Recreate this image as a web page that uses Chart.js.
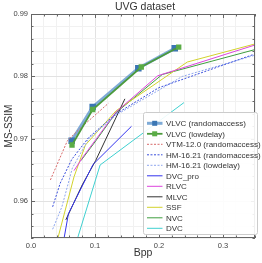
<!DOCTYPE html>
<html>
<head>
<meta charset="utf-8">
<script src="https://cdn.jsdelivr.net/npm/chart.js@4"></script>
<style>
  html, body { margin: 0; padding: 0; background: #fff; }
  #wrap { width: 262px; height: 263px; }
</style>
</head>
<body>
<div id="wrap"><canvas id="rdChart" width="262" height="263"></canvas></div>
<script>
// UVG dataset - MS-SSIM vs Bpp
const seriesNames = ['VLVC (randomaccess)', 'VLVC (lowdelay)', 'VTM-12.0 (randomaccess)', 'HM-16.21 (randomaccess)',
    'HM-16.21 (lowdelay)', 'DVC_pro', 'RLVC', 'MLVC', 'SSF', 'NVC', 'DVC'];

const vlvcRaBpp = [0.0636, 0.0964, 0.1677, 0.2246];
const vlvcRaSsim = [0.9697, 0.9751, 0.9813, 0.9845];
const vlvcLdBpp = [0.0641, 0.0964, 0.1723, 0.2308];
const vlvcLdSsim = [0.9690, 0.9747, 0.9815, 0.9847];
const vtmBpp = [0.0303, 0.0569, 0.0760, 0.1210];
const vtmSsim = [0.9634, 0.9697, 0.9716, 0.9757];
const hmRaBpp = [0.0338, 0.0457, 0.0637, 0.0900, 0.1330, 0.2000, 0.3500];
const hmRaSsim = [0.9591, 0.9629, 0.9667, 0.9702, 0.9740, 0.9782, 0.9836];
const hmLdBpp = [0.0338, 0.0483, 0.0646, 0.0900, 0.1330, 0.2365, 0.3500];
const hmLdSsim = [0.9555, 0.9591, 0.9653, 0.9700, 0.9738, 0.9800, 0.9834];
const dvcProBpp = [0.0490, 0.0585, 0.0970, 0.1570];
const dvcProSsim = [0.9525, 0.9580, 0.9659, 0.9720];
const rlvcBpp = [0.0672, 0.0820, 0.1330, 0.1980, 0.3490];
const rlvcSsim = [0.9649, 0.9672, 0.9743, 0.9801, 0.9850];
const mlvcBpp = [0.0544, 0.0800, 0.1010, 0.1467];
const mlvcSsim = [0.9570, 0.9626, 0.9665, 0.9764];
const ssfBpp = [0.0405, 0.0672, 0.0850, 0.1330, 0.2442, 0.3500];
const ssfSsim = [0.9535, 0.9639, 0.9690, 0.9745, 0.9823, 0.9852];
const nvcBpp = [0.0780, 0.1000, 0.1330, 0.2050, 0.3500];
const nvcSsim = [0.9665, 0.9695, 0.9742, 0.9803, 0.9843];
const dvcBpp = [0.0680, 0.1080, 0.2390];
const dvcSsim = [0.9525, 0.9658, 0.9758];

const xTicksMajor = [0.0, 0.1, 0.2, 0.3];
const yTicksMajor = [0.96, 0.97, 0.98, 0.99];

function pts(xs, ys) {
    return xs.map((x, i) => ({ x: x, y: ys[i] }));
}

function line(label, xs, ys, color, opts) {
    return Object.assign({
        label: label,
        data: pts(xs, ys),
        borderColor: color,
        backgroundColor: color,
        borderWidth: 1,
        pointRadius: 0,
        tension: 0,
        fill: false
    }, opts || {});
}

const dash = [2, 1.5];
const datasets = [
    line(seriesNames[0], vlvcRaBpp, vlvcRaSsim, 'rgba(95,150,205,0.8)',
        { borderWidth: 3, pointStyle: 'rect', pointRadius: 2.5, pointBackgroundColor: '#3b76b3', pointBorderColor: '#3b76b3', order: 1 }),
    line(seriesNames[1], vlvcLdBpp, vlvcLdSsim, '#4c9a3c',
        { borderWidth: 1.8, pointStyle: 'rect', pointRadius: 2.5, pointBackgroundColor: '#5aac45', pointBorderColor: '#5aac45', order: 0 }),
    line(seriesNames[2], vtmBpp, vtmSsim, '#d86a6a', { borderDash: dash }),
    line(seriesNames[3], hmRaBpp, hmRaSsim, '#3a4fdc', { borderDash: dash }),
    line(seriesNames[4], hmLdBpp, hmLdSsim, '#8ea6ee', { borderDash: dash }),
    line(seriesNames[5], dvcProBpp, dvcProSsim, '#3434ee'),
    line(seriesNames[6], rlvcBpp, rlvcSsim, '#dd44dd'),
    line(seriesNames[7], mlvcBpp, mlvcSsim, '#333333'),
    line(seriesNames[8], ssfBpp, ssfSsim, '#d2d22c'),
    line(seriesNames[9], nvcBpp, nvcSsim, '#3f9f3f'),
    line(seriesNames[10], dvcBpp, dvcSsim, '#3fd0d0')
];

function isMajor(v, list) {
    return list.some(m => Math.abs(m - v) < 1e-7);
}

// frame, inward tick marks, title and legend
const decorPlugin = {
    id: 'decor',
    afterDraw(chart) {
        const c = chart.ctx;
        const a = chart.chartArea;
        const xs = chart.scales.x, ys = chart.scales.y;
        c.save();
        c.strokeStyle = '#666';
        c.lineWidth = 1;
        c.strokeRect(a.left + 0.5, a.top + 0.5, a.right - a.left - 1, a.bottom - a.top - 1);
        c.beginPath();
        xs.ticks.forEach(t => {
            const px = Math.round(xs.getPixelForValue(t.value)) + 0.5;
            const len = isMajor(t.value, xTicksMajor) ? 4 : 2.5;
            c.moveTo(px, a.bottom); c.lineTo(px, a.bottom - len);
            c.moveTo(px, a.top); c.lineTo(px, a.top + len);
        });
        ys.ticks.forEach(t => {
            const py = Math.round(ys.getPixelForValue(t.value)) + 0.5;
            const len = isMajor(t.value, yTicksMajor) ? 4 : 2.5;
            c.moveTo(a.left, py); c.lineTo(a.left + len, py);
            c.moveTo(a.right, py); c.lineTo(a.right - len, py);
        });
        c.stroke();

        // title
        c.fillStyle = '#333';
        c.font = '10.5px "Liberation Sans", Arial, sans-serif';
        c.textAlign = 'center';
        c.textBaseline = 'middle';
        c.fillText('UVG dataset', 145, 7.5);

        // legend box
        const bx = 143.5, by = 112.5, bw = 114, bh = 122;
        c.fillStyle = 'rgba(255,255,255,0.9)';
        c.strokeStyle = '#cccccc';
        c.beginPath();
        c.roundRect(bx, by, bw, bh, 2);
        c.fill();
        c.stroke();
        c.font = '8px "Liberation Sans", Arial, sans-serif';
        c.textAlign = 'left';
        chart.data.datasets.forEach((ds, i) => {
            const cy = 123.3 + i * 10.5;
            c.strokeStyle = ds.borderColor;
            c.lineWidth = ds.borderWidth;
            c.setLineDash(ds.borderDash || []);
            c.beginPath();
            c.moveTo(147, cy); c.lineTo(162.5, cy);
            c.stroke();
            c.setLineDash([]);
            if (ds.pointRadius > 0) {
                c.fillStyle = ds.pointBackgroundColor;
                c.fillRect(154.7 - 2.5, cy - 2.5, 5, 5);
            }
            c.fillStyle = '#333';
            c.fillText(ds.label, 166, cy + 0.5);
        });
        c.restore();
    }
};

const ctx = document.getElementById('rdChart').getContext('2d');
const rdChart = new Chart(ctx, {
    type: 'line',
    data: { datasets: datasets },
    options: {
        responsive: false,
        animation: false,
        layout: { padding: { top: 14, right: 3, left: 0, bottom: 0 } },
        plugins: {
            legend: { display: false },
            title: { display: false },
            tooltip: { enabled: false }
        },
        scales: {
            x: {
                type: 'linear',
                min: 0,
                max: 0.35,
                afterFit(scale) { scale.height = 25; },
                border: { display: false },
                grid: {
                    drawTicks: false,
                    color: c => isMajor(c.tick.value, xTicksMajor) ? '#e2e2e2' : '#f1f1f1'
                },
                ticks: {
                    stepSize: 0.02,
                    autoSkip: false,
                    maxRotation: 0,
                    padding: 3,
                    color: '#444',
                    font: { size: 7.5, family: '"Liberation Sans", Arial, sans-serif' },
                    callback: v => isMajor(v, xTicksMajor) ? v.toFixed(1) : ''
                },
                title: {
                    display: true,
                    text: 'Bpp',
                    color: '#333',
                    padding: { top: 2, bottom: 4 },
                    font: { size: 10.5, family: '"Liberation Sans", Arial, sans-serif' }
                }
            },
            y: {
                type: 'linear',
                min: 0.9541,
                max: 0.99,
                afterFit(scale) { scale.width = 31; },
                border: { display: false },
                grid: {
                    drawTicks: false,
                    color: c => isMajor(c.tick.value, yTicksMajor) ? '#e2e2e2' : '#f1f1f1'
                },
                ticks: {
                    stepSize: 0.002,
                    autoSkip: false,
                    padding: 3,
                    color: '#444',
                    font: { size: 7.5, family: '"Liberation Sans", Arial, sans-serif' },
                    callback: v => isMajor(v, yTicksMajor) ? v.toFixed(2) : ''
                },
                title: {
                    display: true,
                    text: 'MS-SSIM',
                    color: '#333',
                    padding: { top: 3, bottom: 2 },
                    font: { size: 10, family: '"Liberation Sans", Arial, sans-serif' }
                }
            }
        }
    },
    plugins: [decorPlugin]
});
</script>
</body>
</html>
